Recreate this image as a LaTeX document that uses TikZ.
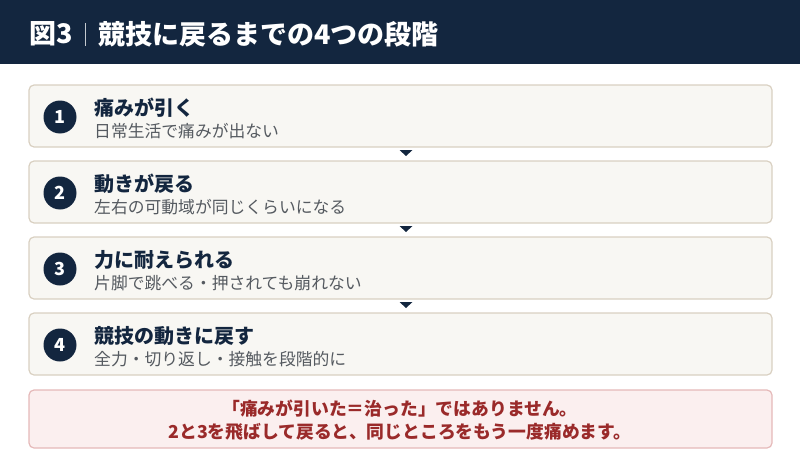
\documentclass[tikz,border=0pt]{standalone}
\usepackage{fontspec}
\setmainfont{Noto Sans CJK JP}
\usetikzlibrary{calc,positioning}

\definecolor{navy}{HTML}{13263F}
\definecolor{cardfill}{HTML}{F8F7F3}
\definecolor{cardline}{HTML}{D9D0C1}
\definecolor{subgray}{HTML}{555A60}
\definecolor{notefill}{HTML}{FBEFEF}
\definecolor{noteline}{HTML}{E5B9B9}
\definecolor{notered}{HTML}{9A2A2A}

\tikzset{
    card/.style={draw=cardline, line width=1.2pt, fill=cardfill, rounded corners=5pt,
        minimum width=743pt, minimum height=62pt, inner sep=0pt},
    badge/.style={circle, fill=navy, text=white, minimum size=33pt, inner sep=0pt,
        font=\bfseries\fontsize{18}{18}\selectfont},
    heading/.style={anchor=base west, text=navy, inner sep=0pt,
        font=\bfseries\fontsize{20}{20}\selectfont},
    subtext/.style={anchor=base west, text=subgray, inner sep=0pt,
        font=\fontsize{16.8}{16.8}\selectfont},
    notetext/.style={text=notered, inner sep=0pt, font=\bfseries\fontsize{17.8}{17.8}\selectfont},
    pointer/.style={fill=navy},
}

\begin{document}
\begin{tikzpicture}[x=1pt,y=-1pt,node distance=1ex]
    \useasboundingbox (0,0) rectangle (800,452);
    \fill[navy] (0,0) rectangle (800,64);
    \node (fig) [anchor=west, text=white, inner sep=0pt, font=\bfseries\fontsize{27}{27}\selectfont] at (29,34) {図3};
    \coordinate (bartop) at (85,23);
    \coordinate (barbot) at (85,46);
    \draw[white!75!navy, line width=0.8pt] (bartop) -- (barbot);
    \node (title) [anchor=west, text=white, inner sep=0pt, font=\bfseries\fontsize{27}{27}\selectfont] at (98,34) {競技に戻るまでの4つの段階};
    % four stages
    \foreach \i/\head/\sub in {1/痛みが引く/日常生活で痛みが出ない,
                               2/動きが戻る/左右の可動域が同じくらいになる,
                               3/力に耐えられる/片脚で跳べる・押されても崩れない,
                               4/競技の動きに戻す/全力・切り返し・接触を段階的に} {
        \node (card\i) [card] at (400.5,{116+76*(\i-1)}) {};
        \node (num\i) [badge] at (60,{117+76*(\i-1)}) {\i};
        \node (head\i) [heading] at (94,{115+76*(\i-1)}) {\head};
        \node (sub\i) [subtext] at (94,{137.5+76*(\i-1)}) {\sub};
    }
    % arrows between stages
    \foreach \i in {1,2,3} {
        \coordinate (tip\i) at (406,{156+76*(\i-1)});
        \fill[pointer] (tip\i) -- ++(-6.5,-6) -- ++(13,0) -- cycle;
    }
    % warning
    \node (note) [draw=noteline, line width=1.2pt, fill=notefill, rounded corners=5pt,
        minimum width=743pt, minimum height=58pt, inner sep=0pt] at (400.5,419) {};
    \node (line1) [notetext] at (400,409) {「痛みが引いた＝治った」ではありません。};
    \node (line2) [notetext] at (400,431.5) {2と3を飛ばして戻ると、同じところをもう一度痛めます。};
\end{tikzpicture}
\end{document}
